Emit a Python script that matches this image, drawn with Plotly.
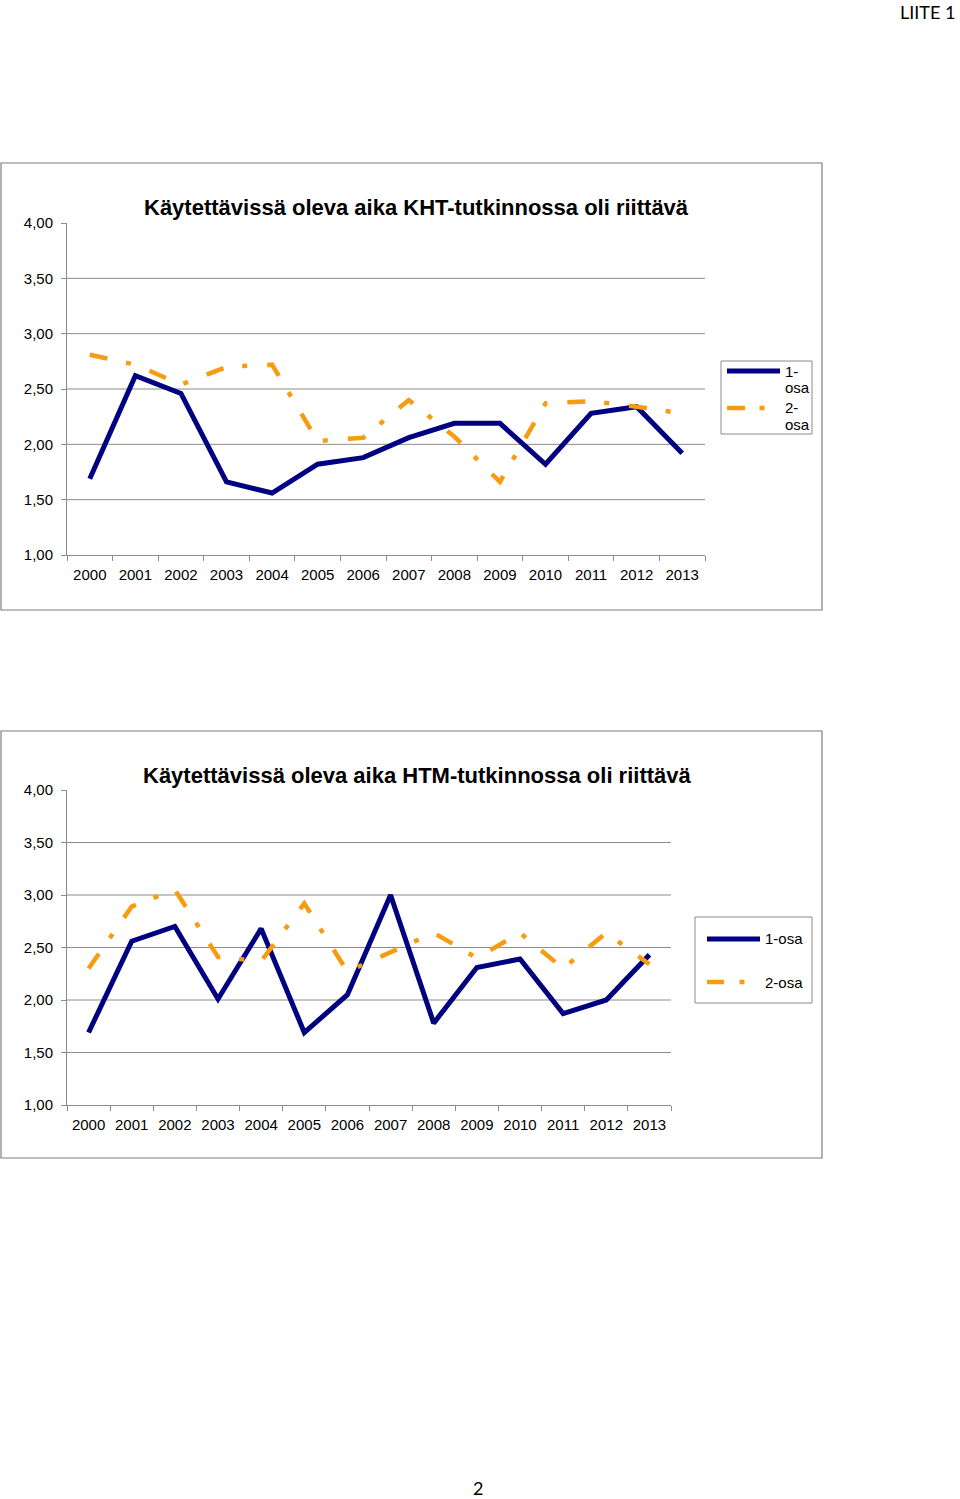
import plotly.graph_objects as go

W, H = 960, 1499

years = ["2000", "2001", "2002", "2003", "2004", "2005", "2006",
         "2007", "2008", "2009", "2010", "2011", "2012", "2013"]

kht_osa1 = [1.69, 2.62, 2.46, 1.66, 1.56, 1.82, 1.88, 2.06, 2.19, 2.19, 1.82, 2.28, 2.34, 1.92]
kht_osa2 = [2.81, 2.72, 2.54, 2.70, 2.72, 2.03, 2.06, 2.40, 2.07, 1.66, 2.37, 2.39, 2.34, 2.28]
htm_osa1 = [1.69, 2.56, 2.70, 2.01, 2.68, 1.69, 2.05, 3.00, 1.78, 2.31, 2.39, 1.87, 2.00, 2.43]
htm_osa2 = [2.30, 2.89, 3.05, 2.41, 2.37, 2.92, 2.27, 2.45, 2.64, 2.40, 2.64, 2.30, 2.64, 2.34]

y_ticks = [1.0, 1.5, 2.0, 2.5, 3.0, 3.5, 4.0]
grid_vals = [1.5, 2.0, 2.5, 3.0, 3.5]

title1 = "Käytettävissä oleva aika KHT-tutkinnossa oli riittävä"
title2 = "Käytettävissä oleva aika HTM-tutkinnossa oli riittävä"
series_names = ["1-osa", "2-osa"]

NAVY = "#000080"
ORANGE = "#F79B0F"
GRID = "#8c8c8c"
FONT = "Liberation Sans, Arial, sans-serif"
DASH = "18px,19px,5px,20px"


def px(x):
    return x / W


def py(y):
    return 1 - y / H


fig = go.Figure()

fig.add_trace(go.Scatter(x=years, y=kht_osa1, mode="lines", name=series_names[0],
                         line=dict(color=NAVY, width=5), xaxis="x", yaxis="y", showlegend=False))
fig.add_trace(go.Scatter(x=years, y=kht_osa2, mode="lines", name=series_names[1],
                         line=dict(color=ORANGE, width=4.5, dash=DASH), xaxis="x", yaxis="y", showlegend=False))
fig.add_trace(go.Scatter(x=years, y=htm_osa1, mode="lines", name=series_names[0],
                         line=dict(color=NAVY, width=5), xaxis="x2", yaxis="y2", showlegend=False))
fig.add_trace(go.Scatter(x=years, y=htm_osa2, mode="lines", name=series_names[1],
                         line=dict(color=ORANGE, width=4.5, dash=DASH), xaxis="x2", yaxis="y2", showlegend=False))

xcommon = dict(type="category", range=[-0.5, len(years) - 0.5], autorange=False,
               showgrid=False, showline=True, linecolor=GRID, linewidth=1,
               ticks="outside", tickson="boundaries", ticklen=5, tickcolor=GRID,
               tickfont=dict(family=FONT, size=15, color="#000"), zeroline=False,
               fixedrange=True, automargin=False, ticklabelstandoff=6)
ycommon = dict(range=[1, 4], autorange=False, tickvals=y_ticks, tickformat=".2f", showgrid=False,
               showline=True, linecolor=GRID, linewidth=1, ticks="outside", ticklen=5,
               tickcolor=GRID, tickfont=dict(family=FONT, size=15, color="#000"),
               zeroline=False, ticklabelstandoff=5, automargin=False, fixedrange=True)

shapes = []
# chart borders
for (x0, y0, x1, y1) in [(1, 163, 822, 610), (1, 731, 822, 1158)]:
    shapes.append(dict(type="rect", xref="paper", yref="paper", x0=px(x0), x1=px(x1),
                       y0=py(y0), y1=py(y1), line=dict(color="#7f7f7f", width=1.2)))
# gridlines
for yr in ["y", "y2"]:
    xr = "x domain" if yr == "y" else "x2 domain"
    for g in grid_vals:
        shapes.append(dict(type="line", xref=xr, yref=yr, x0=0, x1=1, y0=g, y1=g,
                           line=dict(color=GRID, width=1), layer="below"))

# legend boxes
shapes.append(dict(type="rect", xref="paper", yref="paper", x0=px(721), x1=px(812),
                   y0=py(361), y1=py(434), line=dict(color="#8c8c8c", width=1)))
shapes.append(dict(type="rect", xref="paper", yref="paper", x0=px(695), x1=px(812),
                   y0=py(917), y1=py(1003), line=dict(color="#8c8c8c", width=1)))
# legend samples
legend_samples = [
    (727, 780, 371, NAVY, 5, None),
    (727, 745, 408, ORANGE, 4.5, 762),
    (707, 760, 939, NAVY, 5, None),
    (707, 724, 982, ORANGE, 4.5, 742),
]
for (x0, x1, yy, col, wdt, dot) in legend_samples:
    shapes.append(dict(type="line", xref="paper", yref="paper", x0=px(x0), x1=px(x1),
                       y0=py(yy), y1=py(yy), line=dict(color=col, width=wdt)))
    if dot is not None:
        shapes.append(dict(type="line", xref="paper", yref="paper", x0=px(dot - 2.5),
                           x1=px(dot + 2.5), y0=py(yy), y1=py(yy),
                           line=dict(color=col, width=wdt)))

annotations = [
    dict(text="<b>" + title1 + "</b>", x=px(416), y=py(207), xref="paper", yref="paper",
         showarrow=False, font=dict(family=FONT, size=22, color="#000"),
         xanchor="center", yanchor="middle"),
    dict(text="<b>" + title2 + "</b>", x=px(417), y=py(775), xref="paper", yref="paper",
         showarrow=False, font=dict(family=FONT, size=22, color="#000"),
         xanchor="center", yanchor="middle"),
    dict(text="1-", x=px(783), y=py(371), xref="paper", yref="paper", showarrow=False,
         font=dict(family=FONT, size=15, color="#000"), xanchor="left", yanchor="middle"),
    dict(text="osa", x=px(783), y=py(388), xref="paper", yref="paper", showarrow=False,
         font=dict(family=FONT, size=15, color="#000"), xanchor="left", yanchor="middle"),
    dict(text="2-", x=px(783), y=py(408), xref="paper", yref="paper", showarrow=False,
         font=dict(family=FONT, size=15, color="#000"), xanchor="left", yanchor="middle"),
    dict(text="osa", x=px(783), y=py(425), xref="paper", yref="paper", showarrow=False,
         font=dict(family=FONT, size=15, color="#000"), xanchor="left", yanchor="middle"),
    dict(text=series_names[0], x=px(763), y=py(939), xref="paper", yref="paper", showarrow=False,
         font=dict(family=FONT, size=15, color="#000"), xanchor="left", yanchor="middle"),
    dict(text=series_names[1], x=px(763), y=py(982), xref="paper", yref="paper", showarrow=False,
         font=dict(family=FONT, size=15, color="#000"), xanchor="left", yanchor="middle"),
    dict(text="LIITE 1", x=px(957), y=py(12), xref="paper", yref="paper", showarrow=False,
         font=dict(family="Lato, sans-serif", size=18, color="#000"), xanchor="right",
         yanchor="middle"),
    dict(text="2", x=px(478), y=py(1488), xref="paper", yref="paper", showarrow=False,
         font=dict(family="Lato, sans-serif", size=18, color="#000"), xanchor="center",
         yanchor="middle"),
]

fig.update_layout(
    width=W, height=H,
    margin=dict(l=0, r=0, t=0, b=0, pad=0, autoexpand=False),
    paper_bgcolor="white", plot_bgcolor="white",
    separators=", ",
    showlegend=False,
    xaxis=dict(domain=[px(67), px(705)], anchor="y", **xcommon),
    yaxis=dict(domain=[py(555), py(223)], anchor="x", **ycommon),
    xaxis2=dict(domain=[px(67), px(671)], anchor="y2", **xcommon),
    yaxis2=dict(domain=[py(1105), py(790)], anchor="x2", **ycommon),
    shapes=shapes,
    annotations=annotations,
)

fig.write_html(
    "out.html",
    config={"displayModeBar": False, "staticPlot": True},
    post_script="document.body.style.margin='0';document.body.style.padding='0';"
                "document.body.style.overflow='hidden';",
)
